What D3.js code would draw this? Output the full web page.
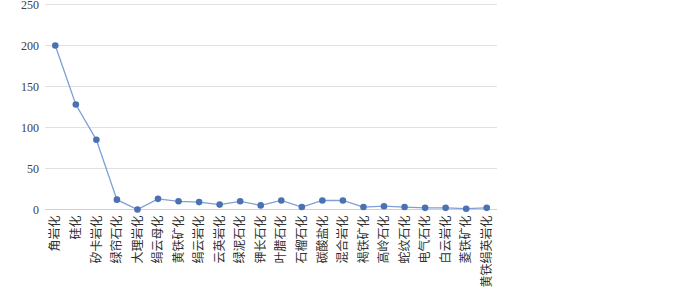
<!DOCTYPE html>
<html><head><meta charset="utf-8">
<script src="https://cdn.jsdelivr.net/npm/d3@7"></script>
<style>body{margin:0;background:#fff}</style>
</head><body>
<svg id="c" width="700" height="290"></svg>
<script>
const categories = ["角岩化","硅化","矽卡岩化","绿帘石化","大理岩化","绢云母化","黄铁矿化","绢云岩化","云英岩化","绿泥石化","钾长石化","叶腊石化","石榴石化","碳酸盐化","混合岩化","褐铁矿化","高岭石化","蛇纹石化","电气石化","白云岩化","菱铁矿化","黄铁绢英岩化"];
const values = [200,128,85,12,0,13,10,9,6,10,5,11,3,11,11,3,4,3,2,2,1,2];
const yTicks = [0,50,100,150,200,250];

(function(){
const svg = d3.select("#c");
const mL = 45, mR = 497, mT = 4.5, mB = 209.5;
const x = d3.scaleBand().domain(categories).range([mL, mR]);
const y = d3.scaleLinear().domain([0, 250]).range([mB, mT]);

svg.append("g").selectAll("line").data(yTicks).join("line")
  .attr("x1", mL).attr("x2", mR)
  .attr("y1", d => y(d)).attr("y2", d => y(d))
  .attr("stroke", d => d === 0 ? "#d0d0d0" : "#e0e0e0").attr("stroke-width", 1);

const yAxis = svg.append("g").attr("transform", `translate(${mL},0)`)
  .call(d3.axisLeft(y).tickValues(yTicks).tickSize(0).tickPadding(6));
yAxis.select(".domain").remove();
yAxis.selectAll("text").attr("font-family", "Liberation Serif, serif").attr("font-size", 12).attr("fill", "#404040");

const xAxis = svg.append("g").attr("transform", `translate(0,${mB})`)
  .call(d3.axisBottom(x).tickSize(0).tickPadding(0));
xAxis.select(".domain").remove();
xAxis.selectAll("text")
  .attr("font-family", "Noto Sans CJK SC, sans-serif").attr("font-size", 12).attr("fill", "#303030")
  .attr("text-anchor", "end")
  .attr("transform", "translate(0,6) rotate(-90)")
  .attr("x", 0).attr("y", 0).attr("dy", "0.35em");

const cx = d => x(d) + x.bandwidth() / 2;
const line = d3.line().x((d, i) => cx(categories[i])).y(d => y(d));
svg.append("path").datum(values).attr("d", line)
  .attr("fill", "none").attr("stroke", "#7f9fd6").attr("stroke-width", 1.3);
svg.append("g").selectAll("circle").data(values).join("circle")
  .attr("cx", (d, i) => cx(categories[i])).attr("cy", d => y(d)).attr("r", 3.3)
  .attr("fill", "#4a72b2");
})();
</script>
</body></html>
